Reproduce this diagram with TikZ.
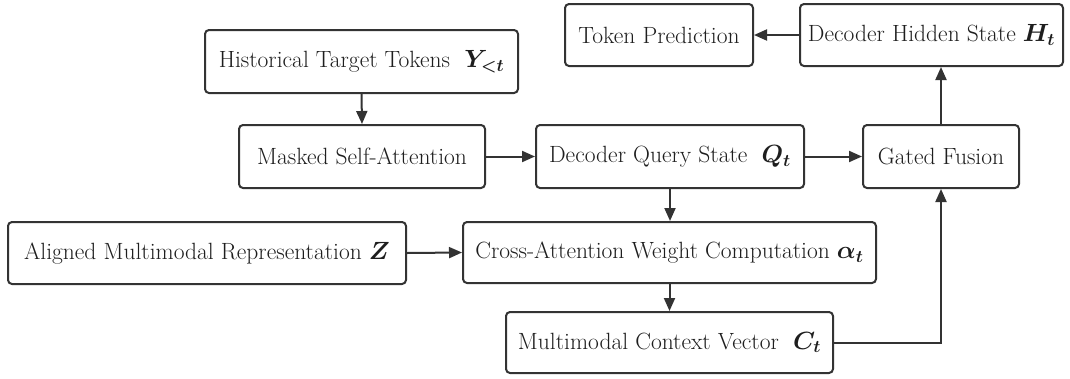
\documentclass[tikz,border=0pt]{standalone}
\usepackage{amsmath}
\usepackage{bm}
\usetikzlibrary{arrows.meta}
\definecolor{ink}{HTML}{333333}
\definecolor{txt}{HTML}{1E1E1E}
\tikzset{
  box/.style={draw=ink, line width=2pt, rounded corners=4pt, fill=white, text=txt,
    inner sep=0pt, font=\rmfamily\fontsize{23.5}{28}\selectfont},
  conn/.style={draw=ink, line width=2pt, -{Triangle[length=13pt,width=11pt]}}
}
\begin{document}
\begin{tikzpicture}[x=1pt,y=-1pt]
\useasboundingbox (0,0) rectangle (1070,378);
\node[box, minimum width=188pt, minimum height=62pt] (tp) at (659,35) {Token Prediction};
\node[box, minimum width=263pt, minimum height=62pt] (dh) at (931.5,35) {Decoder Hidden State $\bm{H_t}$};
\node[box, minimum width=313pt, minimum height=63pt] (ht) at (361.5,61.5) {Historical Target Tokens \ $\bm{Y_{<t}}$};
\node[box, minimum width=246pt, minimum height=63pt] (ms) at (362,156.5) {Masked Self-Attention};
\node[box, minimum width=268pt, minimum height=63pt] (dq) at (670,156.5) {Decoder Query State \ $\bm{Q_t}$};
\node[box, minimum width=156pt, minimum height=63pt] (gf) at (941,156.5) {Gated Fusion};
\node[box, minimum width=398pt, minimum height=62pt] (am) at (207,253) {Aligned Multimodal Representation $\bm{Z}$};
\node[box, minimum width=413pt, minimum height=61pt] (ca) at (669.5,252.5) {Cross-Attention Weight Computation $\bm{\alpha_t}$};
\node[box, minimum width=327pt, minimum height=61pt] (cv) at (669.5,342.5) {Multimodal Context Vector \ $\bm{C_t}$};
\draw[conn] (dh.west) -- (tp.east);
\draw[conn] (gf.north) -- (gf.north |- dh.south);
\draw[conn] (ht.south) -- (ms.north);
\draw[conn] (ms.east) -- (dq.west);
\draw[conn] (dq.east) -- (gf.west);
\draw[conn] (dq.south) -- (dq.south |- ca.north);
\draw[conn] (am.east) -- (ca.west);
\draw[conn] (ca.south) -- (cv.north);
\draw[conn] (cv.east) -| (gf.south);
\end{tikzpicture}
\end{document}
